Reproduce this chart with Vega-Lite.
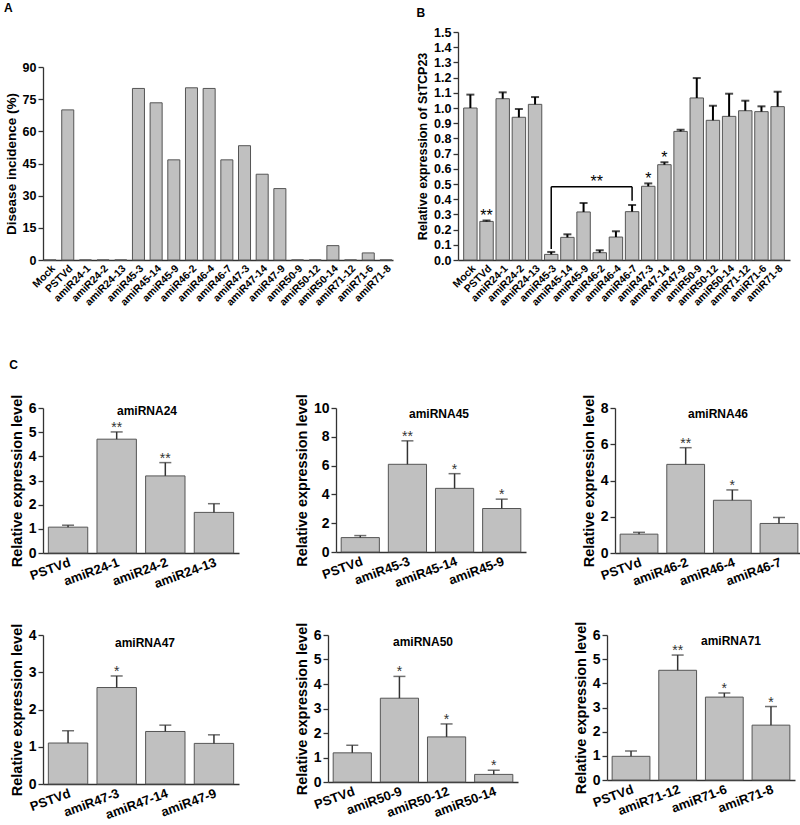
{
  "$schema": "https://vega.github.io/schema/vega-lite/v6.json",
  "background": "white",
  "padding": {"left": 4, "top": 2, "right": 2, "bottom": 0},
  "config": {
    "font": "Liberation Sans",
    "view": {"stroke": null},
    "axis": {"labelFont": "Liberation Sans", "titleFont": "Liberation Sans", "labelFontWeight": "bold", "titleFontWeight": "bold", "labelColor": "#000", "titleColor": "#000", "domainColor": "#333", "domainWidth": 1.3, "tickColor": "#333", "tickWidth": 1.3, "grid": false, "labelOverlap": false},
    "axisX": {"ticks": false, "labelPadding": 3},
    "axisY": {"tickSize": 5, "labelPadding": 2, "titlePadding": 4},
    "title": {"font": "Liberation Sans", "fontWeight": "bold", "color": "#000"},
    "bar": {"fill": "#c0c0c0", "stroke": "#555", "strokeWidth": 1}
  },
  "datasets": {
    "a": [
      {"name": "Mock", "value": 0}, {"name": "PSTVd", "value": 70}, {"name": "amiR24-1", "value": 0}, {"name": "amiR24-2", "value": 0},
      {"name": "amiR24-13", "value": 0}, {"name": "amiR45-3", "value": 80}, {"name": "amiR45-14", "value": 73.3}, {"name": "amiR45-9", "value": 46.7},
      {"name": "amiR46-2", "value": 80.3}, {"name": "amiR46-4", "value": 80}, {"name": "amiR46-7", "value": 46.7}, {"name": "amiR47-3", "value": 53.3},
      {"name": "amiR47-14", "value": 40}, {"name": "amiR47-9", "value": 33.3}, {"name": "amiR50-9", "value": 0}, {"name": "amiR50-12", "value": 0},
      {"name": "amiR50-14", "value": 6.7}, {"name": "amiR71-12", "value": 0}, {"name": "amiR71-6", "value": 3.3}, {"name": "amiR71-8", "value": 0}
    ],
    "b": [
      {"name": "Mock", "value": 1.0, "hi": 1.088, "sig": ""},
      {"name": "PSTVd", "value": 0.254, "hi": 0.26, "sig": "**"},
      {"name": "amiR24-1", "value": 1.061, "hi": 1.103, "sig": ""},
      {"name": "amiR24-2", "value": 0.939, "hi": 0.993, "sig": ""},
      {"name": "amiR24-13", "value": 1.024, "hi": 1.072, "sig": ""},
      {"name": "amiR45-3", "value": 0.037, "hi": 0.053, "sig": ""},
      {"name": "amiR45-14", "value": 0.149, "hi": 0.169, "sig": ""},
      {"name": "amiR45-9", "value": 0.316, "hi": 0.375, "sig": ""},
      {"name": "amiR46-2", "value": 0.048, "hi": 0.064, "sig": ""},
      {"name": "amiR46-4", "value": 0.151, "hi": 0.189, "sig": ""},
      {"name": "amiR46-7", "value": 0.318, "hi": 0.362, "sig": ""},
      {"name": "amiR47-3", "value": 0.485, "hi": 0.504, "sig": "*"},
      {"name": "amiR47-14", "value": 0.627, "hi": 0.643, "sig": "*"},
      {"name": "amiR47-9", "value": 0.846, "hi": 0.857, "sig": ""},
      {"name": "amiR50-9", "value": 1.066, "hi": 1.197, "sig": ""},
      {"name": "amiR50-12", "value": 0.919, "hi": 1.015, "sig": ""},
      {"name": "amiR50-14", "value": 0.945, "hi": 1.094, "sig": ""},
      {"name": "amiR71-12", "value": 0.982, "hi": 1.048, "sig": ""},
      {"name": "amiR71-6", "value": 0.976, "hi": 1.011, "sig": ""},
      {"name": "amiR71-8", "value": 1.009, "hi": 1.107, "sig": ""}
    ],
    "bh": [{"name": "amiR45-3", "name2": "amiR46-7", "y": 0.482}],
    "bv": [{"name": "amiR45-3", "y": 0.072, "y2": 0.482}, {"name": "amiR46-7", "y": 0.39, "y2": 0.482}],
    "bt": [{"name": "amiR46-2", "y": 0.482, "sig": "**"}],
    "c": [
      {"panel": "amiRNA24", "name": "PSTVd", "value": 1.07, "hi": 1.15, "sig": ""},
      {"panel": "amiRNA24", "name": "amiR24-1", "value": 4.71, "hi": 5.01, "sig": "**"},
      {"panel": "amiRNA24", "name": "amiR24-2", "value": 3.19, "hi": 3.74, "sig": "**"},
      {"panel": "amiRNA24", "name": "amiR24-13", "value": 1.68, "hi": 2.04, "sig": ""},
      {"panel": "amiRNA45", "name": "PSTVd", "value": 1.0, "hi": 1.14, "sig": ""},
      {"panel": "amiRNA45", "name": "amiR45-3", "value": 6.09, "hi": 7.72, "sig": "**"},
      {"panel": "amiRNA45", "name": "amiR45-14", "value": 4.42, "hi": 5.44, "sig": "*"},
      {"panel": "amiRNA45", "name": "amiR45-9", "value": 3.02, "hi": 3.67, "sig": "*"},
      {"panel": "amiRNA46", "name": "PSTVd", "value": 1.04, "hi": 1.14, "sig": ""},
      {"panel": "amiRNA46", "name": "amiR46-2", "value": 4.89, "hi": 5.81, "sig": "**"},
      {"panel": "amiRNA46", "name": "amiR46-4", "value": 2.91, "hi": 3.48, "sig": "*"},
      {"panel": "amiRNA46", "name": "amiR46-7", "value": 1.63, "hi": 1.96, "sig": ""},
      {"panel": "amiRNA47", "name": "PSTVd", "value": 1.10, "hi": 1.43, "sig": ""},
      {"panel": "amiRNA47", "name": "amiR47-3", "value": 2.59, "hi": 2.90, "sig": "*"},
      {"panel": "amiRNA47", "name": "amiR47-14", "value": 1.41, "hi": 1.58, "sig": ""},
      {"panel": "amiRNA47", "name": "amiR47-9", "value": 1.09, "hi": 1.32, "sig": ""},
      {"panel": "amiRNA50", "name": "PSTVd", "value": 1.19, "hi": 1.50, "sig": ""},
      {"panel": "amiRNA50", "name": "amiR50-9", "value": 3.42, "hi": 4.31, "sig": "*"},
      {"panel": "amiRNA50", "name": "amiR50-12", "value": 1.84, "hi": 2.37, "sig": "*"},
      {"panel": "amiRNA50", "name": "amiR50-14", "value": 0.31, "hi": 0.48, "sig": "*"},
      {"panel": "amiRNA71", "name": "PSTVd", "value": 0.98, "hi": 1.20, "sig": ""},
      {"panel": "amiRNA71", "name": "amiR71-12", "value": 4.54, "hi": 5.17, "sig": "**"},
      {"panel": "amiRNA71", "name": "amiR71-6", "value": 3.43, "hi": 3.60, "sig": "*"},
      {"panel": "amiRNA71", "name": "amiR71-8", "value": 2.27, "hi": 3.04, "sig": "*"}
    ]
  },
  "spacing": 50,
  "vconcat": [
    {
      "spacing": 23,
      "hconcat": [
        {
          "width": 350, "height": 228,
          "title": {"text": "A", "anchor": "start", "frame": "bounds", "fontSize": 12, "offset": 17},
          "data": {"name": "a"},
          "mark": {"type": "bar"},
          "encoding": {
            "x": {"field": "name", "type": "nominal", "sort": null, "scale": {"paddingInner": 0.32, "paddingOuter": 0.06}, "axis": {"title": null, "labelAngle": -45, "labelFontSize": 10.5}},
            "y": {"field": "value", "type": "quantitative", "scale": {"domain": [0, 90], "range": [228, 35], "nice": false}, "axis": {"values": [0, 15, 30, 45, 60, 75, 90], "title": "Disease incidence (%)", "titleFontSize": 13.5, "labelFontSize": 12.5}}
          }
        },
        {
          "width": 332, "height": 228,
          "title": {"text": "B", "anchor": "start", "frame": "bounds", "fontSize": 12, "offset": 6},
          "encoding": {
            "x": {"field": "name", "type": "nominal", "scale": {"domain": ["Mock", "PSTVd", "amiR24-1", "amiR24-2", "amiR24-13", "amiR45-3", "amiR45-14", "amiR45-9", "amiR46-2", "amiR46-4", "amiR46-7", "amiR47-3", "amiR47-14", "amiR47-9", "amiR50-9", "amiR50-12", "amiR50-14", "amiR71-12", "amiR71-6", "amiR71-8"], "paddingInner": 0.17, "paddingOuter": 0.35}, "axis": {"title": null, "labelAngle": -45, "labelFontSize": 10.5}}
          },
          "layer": [
            {
              "data": {"name": "b"},
              "mark": {"type": "bar"},
              "encoding": {"y": {"field": "value", "type": "quantitative", "scale": {"domain": [0, 1.5], "nice": false}, "axis": {"values": [0, 0.1, 0.2, 0.3, 0.4, 0.5, 0.6, 0.7, 0.8, 0.9, 1.0, 1.1, 1.2, 1.3, 1.4, 1.5], "format": ".1f", "title": "Relative expression of StTCP23", "titleFontSize": 12.5, "labelFontSize": 12.5}}}
            },
            {
              "data": {"name": "b"},
              "mark": {"type": "rule", "color": "#000", "strokeWidth": 2},
              "encoding": {"y": {"field": "value", "type": "quantitative", "axis": {"values": [0, 0.1, 0.2, 0.3, 0.4, 0.5, 0.6, 0.7, 0.8, 0.9, 1.0, 1.1, 1.2, 1.3, 1.4, 1.5], "format": ".1f", "title": "Relative expression of StTCP23", "titleFontSize": 12.5, "labelFontSize": 12.5}}, "y2": {"field": "hi"}}
            },
            {
              "data": {"name": "b"},
              "mark": {"type": "tick", "orient": "horizontal", "color": "#000", "size": 8, "thickness": 2},
              "encoding": {"y": {"field": "hi", "type": "quantitative", "axis": {"values": [0, 0.1, 0.2, 0.3, 0.4, 0.5, 0.6, 0.7, 0.8, 0.9, 1.0, 1.1, 1.2, 1.3, 1.4, 1.5], "format": ".1f", "title": "Relative expression of StTCP23", "titleFontSize": 12.5, "labelFontSize": 12.5}}}
            },
            {
              "data": {"name": "b"},
              "transform": [{"filter": "datum.sig !== ''"}],
              "mark": {"type": "text", "fontSize": 16, "color": "#000", "baseline": "alphabetic", "dy": 1},
              "encoding": {"y": {"field": "hi", "type": "quantitative", "axis": {"values": [0, 0.1, 0.2, 0.3, 0.4, 0.5, 0.6, 0.7, 0.8, 0.9, 1.0, 1.1, 1.2, 1.3, 1.4, 1.5], "format": ".1f", "title": "Relative expression of StTCP23", "titleFontSize": 12.5, "labelFontSize": 12.5}}, "text": {"field": "sig"}}
            },
            {
              "data": {"name": "bh"},
              "mark": {"type": "rule", "color": "#000", "strokeWidth": 1.5},
              "encoding": {"x": {"field": "name", "type": "nominal", "bandPosition": 0.5}, "x2": {"field": "name2"}, "y": {"field": "y", "type": "quantitative", "axis": {"values": [0, 0.1, 0.2, 0.3, 0.4, 0.5, 0.6, 0.7, 0.8, 0.9, 1.0, 1.1, 1.2, 1.3, 1.4, 1.5], "format": ".1f", "title": "Relative expression of StTCP23", "titleFontSize": 12.5, "labelFontSize": 12.5}}}
            },
            {
              "data": {"name": "bv"},
              "mark": {"type": "rule", "color": "#000", "strokeWidth": 1.5},
              "encoding": {"y": {"field": "y", "type": "quantitative", "axis": {"values": [0, 0.1, 0.2, 0.3, 0.4, 0.5, 0.6, 0.7, 0.8, 0.9, 1.0, 1.1, 1.2, 1.3, 1.4, 1.5], "format": ".1f", "title": "Relative expression of StTCP23", "titleFontSize": 12.5, "labelFontSize": 12.5}}, "y2": {"field": "y2"}}
            },
            {
              "data": {"name": "bt"},
              "mark": {"type": "text", "fontSize": 16, "color": "#000", "baseline": "alphabetic", "dx": -3, "dy": 0},
              "encoding": {"y": {"field": "y", "type": "quantitative", "axis": {"values": [0, 0.1, 0.2, 0.3, 0.4, 0.5, 0.6, 0.7, 0.8, 0.9, 1.0, 1.1, 1.2, 1.3, 1.4, 1.5], "format": ".1f", "title": "Relative expression of StTCP23", "titleFontSize": 12.5, "labelFontSize": 12.5}}, "text": {"field": "sig"}}
            }
          ]
        }
      ]
    },
    {
      "title": {"text": "C", "anchor": "start", "frame": "bounds", "fontSize": 12, "offset": 22},
      "spacing": 30,
      "vconcat": [
        {
          "spacing": 55,
          "hconcat": [
            {
              "width": 196, "height": 145,
              "title": {"text": "amiRNA24", "fontSize": 12, "offset": -24, "dx": 6},
              "data": {"name": "c"},
              "transform": [{"filter": "datum.panel === 'amiRNA24'"}],
              "encoding": {"x": {"field": "name", "type": "nominal", "sort": null, "scale": {"paddingInner": 0.19, "paddingOuter": 0.11}, "axis": {"title": null, "labelAngle": -20, "labelFontSize": 13}}},
              "layer": [
                {"mark": {"type": "bar"}, "encoding": {"y": {"field": "value", "type": "quantitative", "scale": {"domain": [0, 6]}, "axis": {"values": [0, 1, 2, 3, 4, 5, 6], "title": "Relative expression level", "titleFontSize": 14.5, "labelFontSize": 14}}}},
                {"mark": {"type": "rule", "color": "#333", "strokeWidth": 1.5}, "encoding": {"y": {"field": "value", "type": "quantitative", "axis": {"values": [0, 1, 2, 3, 4, 5, 6], "title": "Relative expression level", "titleFontSize": 14.5, "labelFontSize": 14}}, "y2": {"field": "hi"}}},
                {"mark": {"type": "tick", "orient": "horizontal", "color": "#333", "size": 12, "thickness": 1.5}, "encoding": {"y": {"field": "hi", "type": "quantitative", "axis": {"values": [0, 1, 2, 3, 4, 5, 6], "title": "Relative expression level", "titleFontSize": 14.5, "labelFontSize": 14}}}},
                {"transform": [{"filter": "datum.sig !== ''"}], "mark": {"type": "text", "fontSize": 14, "color": "#333", "baseline": "alphabetic"}, "encoding": {"y": {"field": "hi", "type": "quantitative", "axis": {"values": [0, 1, 2, 3, 4, 5, 6], "title": "Relative expression level", "titleFontSize": 14.5, "labelFontSize": 14}}, "text": {"field": "sig"}}}
              ]
            },
            {
              "width": 190, "height": 144,
              "title": {"text": "amiRNA45", "fontSize": 12, "offset": -27, "dx": 8},
              "data": {"name": "c"},
              "transform": [{"filter": "datum.panel === 'amiRNA45'"}],
              "encoding": {"x": {"field": "name", "type": "nominal", "sort": null, "scale": {"paddingInner": 0.19, "paddingOuter": 0.11}, "axis": {"title": null, "labelAngle": -20, "labelFontSize": 13}}},
              "layer": [
                {"mark": {"type": "bar"}, "encoding": {"y": {"field": "value", "type": "quantitative", "scale": {"domain": [0, 10]}, "axis": {"values": [0, 2, 4, 6, 8, 10], "title": "Relative expression level", "titleFontSize": 14.5, "labelFontSize": 14}}}},
                {"mark": {"type": "rule", "color": "#333", "strokeWidth": 1.5}, "encoding": {"y": {"field": "value", "type": "quantitative", "axis": {"values": [0, 2, 4, 6, 8, 10], "title": "Relative expression level", "titleFontSize": 14.5, "labelFontSize": 14}}, "y2": {"field": "hi"}}},
                {"mark": {"type": "tick", "orient": "horizontal", "color": "#333", "size": 12, "thickness": 1.5}, "encoding": {"y": {"field": "hi", "type": "quantitative", "axis": {"values": [0, 2, 4, 6, 8, 10], "title": "Relative expression level", "titleFontSize": 14.5, "labelFontSize": 14}}}},
                {"transform": [{"filter": "datum.sig !== ''"}], "mark": {"type": "text", "fontSize": 14, "color": "#333", "baseline": "alphabetic"}, "encoding": {"y": {"field": "hi", "type": "quantitative", "axis": {"values": [0, 2, 4, 6, 8, 10], "title": "Relative expression level", "titleFontSize": 14.5, "labelFontSize": 14}}, "text": {"field": "sig"}}}
              ]
            },
            {
              "width": 188, "height": 145,
              "title": {"text": "amiRNA46", "fontSize": 12, "offset": -27, "dx": 9},
              "data": {"name": "c"},
              "transform": [{"filter": "datum.panel === 'amiRNA46'"}],
              "encoding": {"x": {"field": "name", "type": "nominal", "sort": null, "scale": {"paddingInner": 0.19, "paddingOuter": 0.11}, "axis": {"title": null, "labelAngle": -20, "labelFontSize": 13}}},
              "layer": [
                {"mark": {"type": "bar"}, "encoding": {"y": {"field": "value", "type": "quantitative", "scale": {"domain": [0, 8]}, "axis": {"values": [0, 2, 4, 6, 8], "title": "Relative expression level", "titleFontSize": 14.5, "labelFontSize": 14}}}},
                {"mark": {"type": "rule", "color": "#333", "strokeWidth": 1.5}, "encoding": {"y": {"field": "value", "type": "quantitative", "axis": {"values": [0, 2, 4, 6, 8], "title": "Relative expression level", "titleFontSize": 14.5, "labelFontSize": 14}}, "y2": {"field": "hi"}}},
                {"mark": {"type": "tick", "orient": "horizontal", "color": "#333", "size": 12, "thickness": 1.5}, "encoding": {"y": {"field": "hi", "type": "quantitative", "axis": {"values": [0, 2, 4, 6, 8], "title": "Relative expression level", "titleFontSize": 14.5, "labelFontSize": 14}}}},
                {"transform": [{"filter": "datum.sig !== ''"}], "mark": {"type": "text", "fontSize": 14, "color": "#333", "baseline": "alphabetic"}, "encoding": {"y": {"field": "hi", "type": "quantitative", "axis": {"values": [0, 2, 4, 6, 8], "title": "Relative expression level", "titleFontSize": 14.5, "labelFontSize": 14}}, "text": {"field": "sig"}}}
              ]
            }
          ]
        },
        {
          "spacing": 55,
          "hconcat": [
            {
              "width": 196, "height": 149,
              "title": {"text": "amiRNA47", "fontSize": 12, "offset": -27, "dx": 4},
              "data": {"name": "c"},
              "transform": [{"filter": "datum.panel === 'amiRNA47'"}],
              "encoding": {"x": {"field": "name", "type": "nominal", "sort": null, "scale": {"paddingInner": 0.19, "paddingOuter": 0.11}, "axis": {"title": null, "labelAngle": -20, "labelFontSize": 13}}},
              "layer": [
                {"mark": {"type": "bar"}, "encoding": {"y": {"field": "value", "type": "quantitative", "scale": {"domain": [0, 4]}, "axis": {"values": [0, 1, 2, 3, 4], "title": "Relative expression level", "titleFontSize": 14.5, "labelFontSize": 14}}}},
                {"mark": {"type": "rule", "color": "#333", "strokeWidth": 1.5}, "encoding": {"y": {"field": "value", "type": "quantitative", "axis": {"values": [0, 1, 2, 3, 4], "title": "Relative expression level", "titleFontSize": 14.5, "labelFontSize": 14}}, "y2": {"field": "hi"}}},
                {"mark": {"type": "tick", "orient": "horizontal", "color": "#333", "size": 12, "thickness": 1.5}, "encoding": {"y": {"field": "hi", "type": "quantitative", "axis": {"values": [0, 1, 2, 3, 4], "title": "Relative expression level", "titleFontSize": 14.5, "labelFontSize": 14}}}},
                {"transform": [{"filter": "datum.sig !== ''"}], "mark": {"type": "text", "fontSize": 14, "color": "#333", "baseline": "alphabetic"}, "encoding": {"y": {"field": "hi", "type": "quantitative", "axis": {"values": [0, 1, 2, 3, 4], "title": "Relative expression level", "titleFontSize": 14.5, "labelFontSize": 14}}, "text": {"field": "sig"}}}
              ]
            },
            {
              "width": 190, "height": 147,
              "title": {"text": "amiRNA50", "fontSize": 12, "offset": -27},
              "data": {"name": "c"},
              "transform": [{"filter": "datum.panel === 'amiRNA50'"}],
              "encoding": {"x": {"field": "name", "type": "nominal", "sort": null, "scale": {"paddingInner": 0.19, "paddingOuter": 0.11}, "axis": {"title": null, "labelAngle": -20, "labelFontSize": 13}}},
              "layer": [
                {"mark": {"type": "bar"}, "encoding": {"y": {"field": "value", "type": "quantitative", "scale": {"domain": [0, 6]}, "axis": {"values": [0, 1, 2, 3, 4, 5, 6], "title": "Relative expression level", "titleFontSize": 14.5, "labelFontSize": 14}}}},
                {"mark": {"type": "rule", "color": "#333", "strokeWidth": 1.5}, "encoding": {"y": {"field": "value", "type": "quantitative", "axis": {"values": [0, 1, 2, 3, 4, 5, 6], "title": "Relative expression level", "titleFontSize": 14.5, "labelFontSize": 14}}, "y2": {"field": "hi"}}},
                {"mark": {"type": "tick", "orient": "horizontal", "color": "#333", "size": 12, "thickness": 1.5}, "encoding": {"y": {"field": "hi", "type": "quantitative", "axis": {"values": [0, 1, 2, 3, 4, 5, 6], "title": "Relative expression level", "titleFontSize": 14.5, "labelFontSize": 14}}}},
                {"transform": [{"filter": "datum.sig !== ''"}], "mark": {"type": "text", "fontSize": 14, "color": "#333", "baseline": "alphabetic"}, "encoding": {"y": {"field": "hi", "type": "quantitative", "axis": {"values": [0, 1, 2, 3, 4, 5, 6], "title": "Relative expression level", "titleFontSize": 14.5, "labelFontSize": 14}}, "text": {"field": "sig"}}}
              ]
            },
            {
              "width": 188, "height": 145,
              "title": {"text": "amiRNA71", "fontSize": 12, "offset": -27, "dx": 30},
              "data": {"name": "c"},
              "transform": [{"filter": "datum.panel === 'amiRNA71'"}],
              "encoding": {"x": {"field": "name", "type": "nominal", "sort": null, "scale": {"paddingInner": 0.19, "paddingOuter": 0.11}, "axis": {"title": null, "labelAngle": -20, "labelFontSize": 13}}},
              "layer": [
                {"mark": {"type": "bar"}, "encoding": {"y": {"field": "value", "type": "quantitative", "scale": {"domain": [0, 6]}, "axis": {"values": [0, 1, 2, 3, 4, 5, 6], "title": "Relative expression level", "titleFontSize": 14.5, "labelFontSize": 14}}}},
                {"mark": {"type": "rule", "color": "#333", "strokeWidth": 1.5}, "encoding": {"y": {"field": "value", "type": "quantitative", "axis": {"values": [0, 1, 2, 3, 4, 5, 6], "title": "Relative expression level", "titleFontSize": 14.5, "labelFontSize": 14}}, "y2": {"field": "hi"}}},
                {"mark": {"type": "tick", "orient": "horizontal", "color": "#333", "size": 12, "thickness": 1.5}, "encoding": {"y": {"field": "hi", "type": "quantitative", "axis": {"values": [0, 1, 2, 3, 4, 5, 6], "title": "Relative expression level", "titleFontSize": 14.5, "labelFontSize": 14}}}},
                {"transform": [{"filter": "datum.sig !== ''"}], "mark": {"type": "text", "fontSize": 14, "color": "#333", "baseline": "alphabetic"}, "encoding": {"y": {"field": "hi", "type": "quantitative", "axis": {"values": [0, 1, 2, 3, 4, 5, 6], "title": "Relative expression level", "titleFontSize": 14.5, "labelFontSize": 14}}, "text": {"field": "sig"}}}
              ]
            }
          ]
        }
      ]
    }
  ]
}
